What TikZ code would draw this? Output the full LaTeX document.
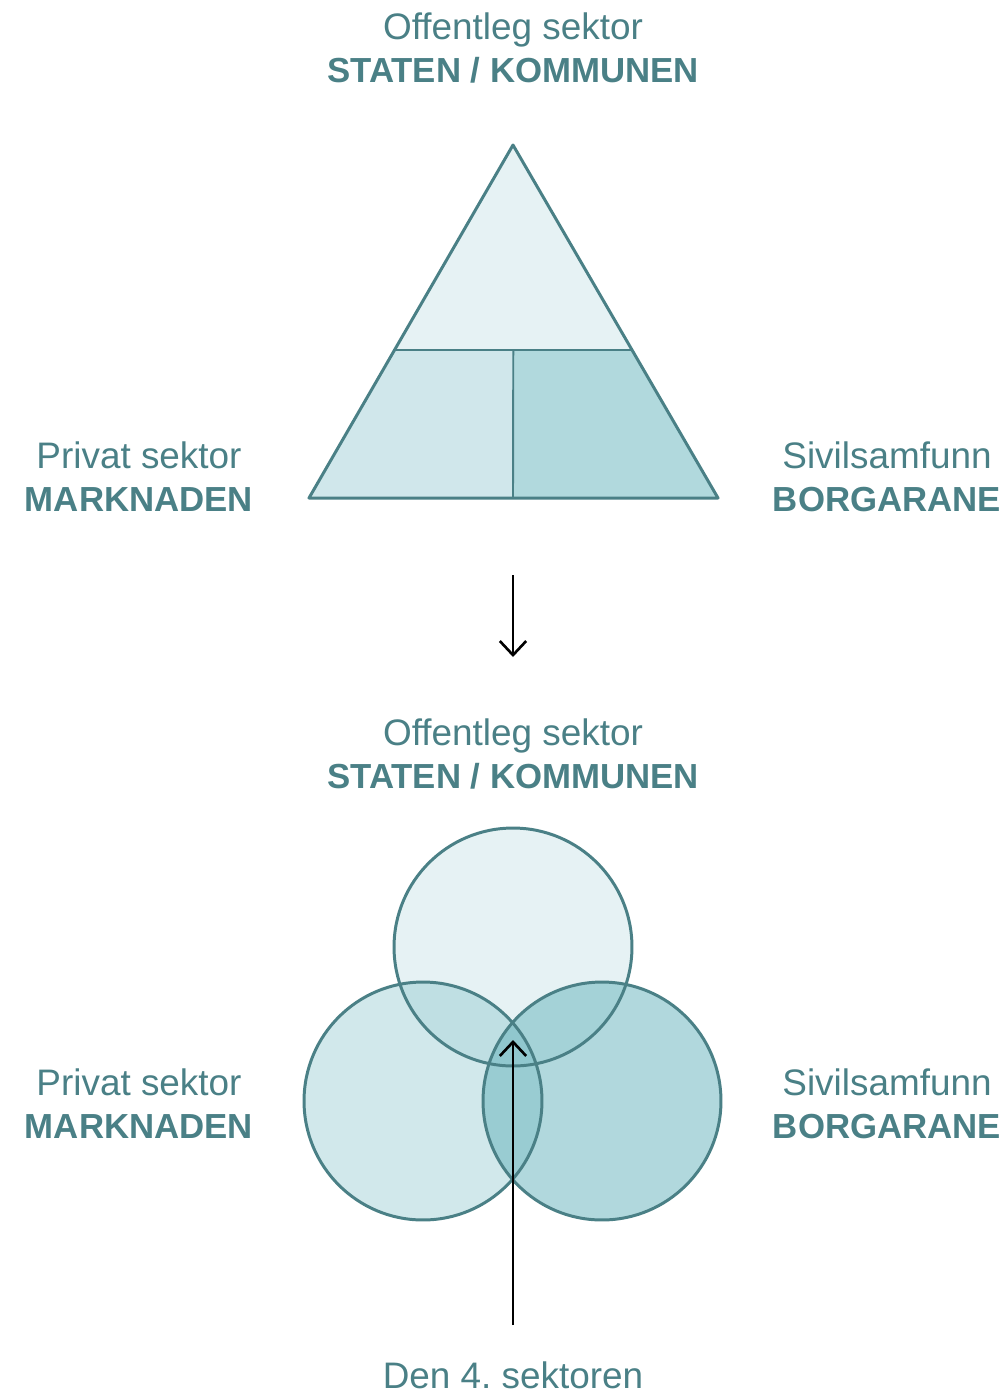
\documentclass[tikz,border=0pt]{standalone}
\usepackage{fontspec}
\setmainfont{Liberation Sans}
\usetikzlibrary{arrows.meta, positioning, calc}
\frenchspacing

\definecolor{tealline}{HTML}{4A8086}
\definecolor{tealtop}{HTML}{E6F2F4}
\definecolor{tealleft}{HTML}{D0E7EB}
\definecolor{tealright}{HTML}{B1D9DD}
\definecolor{tealbase}{RGB}{95,175,185}

\tikzset{
  sector/.style={font=\fontsize{21}{25}\selectfont, text=tealline, anchor=base, inner sep=0pt},
  actor/.style={font=\bfseries\fontsize{19.8}{24}\selectfont, text=tealline, anchor=base, inner sep=0pt},
  rim/.style={draw=tealline, line width=1.7pt, line join=round},
  split/.style={draw=tealline, line width=1.1pt},
  flow/.style={-{Straight Barb[length=8pt,width=15pt,line width=1.5pt]}, line width=1.5pt, black},
}

\begin{document}
\begin{tikzpicture}[x=0.02cm, y=-0.02cm]
   \useasboundingbox (0,0) rectangle (1008,1397);

   % upper: pyramid
   \node[sector] (pub1)  at (513,39)  {Offentleg sektor};
   \node[actor]  (stat1) at (513,82)  {STATEN / KOMMUNEN};
   \node[sector] (priv1) at (139,468) {Privat sektor};
   \node[actor]  (mark1) at (139,511) {MARKNADEN};
   \node[sector] (civ1)  at (887,468) {Sivilsamfunn};
   \node[actor]  (borg1) at (887,511) {BORGARANE};

   \coordinate (apex) at (513,145);
   \coordinate (bl) at (309,498);
   \coordinate (br) at (718,498);
   \coordinate (bm) at (513,498);
   \coordinate (ml) at ($(apex)!0.58!(bl)$);
   \coordinate (mr) at ($(apex)!0.58!(br)$);
   \coordinate (mm) at ($(ml)!0.5!(mr)$);

   \fill[tealtop]   (apex) -- (ml) -- (mr) -- cycle;
   \fill[tealleft]  (ml) -- (bl) -- (bm) -- (mm) -- cycle;
   \fill[tealright] (mm) -- (bm) -- (br) -- (mr) -- cycle;
   \draw[split] (ml) -- (mr);
   \draw[split] (mm) -- (bm);
   \draw[rim] (apex) -- (bl) -- (br) -- cycle;

   \coordinate (down from) at (513,575);
   \coordinate (down to)   at (513,657);
   \draw[flow] (down from) -- (down to);

   % lower: overlapping circles
   \node[sector] (pub2)  at (513,745)  {Offentleg sektor};
   \node[actor]  (stat2) at (513,788)  {STATEN / KOMMUNEN};
   \node[sector] (priv2) at (139,1095) {Privat sektor};
   \node[actor]  (mark2) at (139,1138) {MARKNADEN};
   \node[sector] (civ2)  at (887,1095) {Sivilsamfunn};
   \node[actor]  (borg2) at (887,1138) {BORGARANE};
   \node[sector] (fourth) at (513,1388) {Den 4. sektoren};

   \coordinate (ctop)   at (513,947);
   \coordinate (cleft)  at (423,1101);
   \coordinate (cright) at (602,1101);

   \fill[tealbase, fill opacity=0.156] (ctop) circle[radius=2.38cm];
   \fill[tealbase, fill opacity=0.29]  (cleft) circle[radius=2.38cm];
   \fill[tealbase, fill opacity=0.49]  (cright) circle[radius=2.38cm];
   \foreach \c in {ctop, cleft, cright}
      \draw[rim] (\c) circle[radius=2.38cm];

   \coordinate (up from) at (513,1325);
   \coordinate (up to)   at (513,1040);
   \draw[flow] (up from) -- (up to);
\end{tikzpicture}
\end{document}
